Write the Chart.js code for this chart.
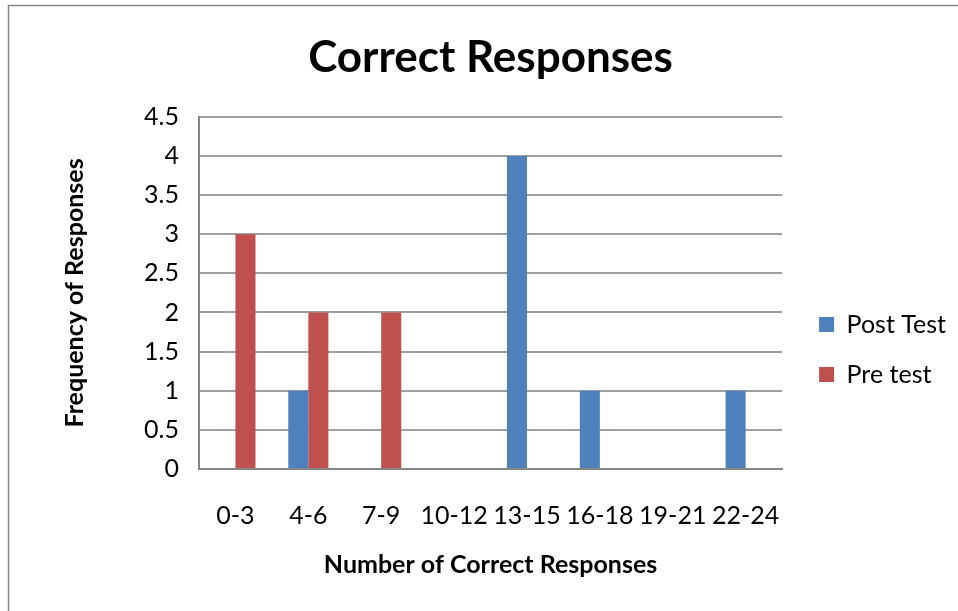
<!DOCTYPE html>
<html>
<head>
<meta charset="utf-8">
<script src="https://cdn.jsdelivr.net/npm/chart.js@4"></script>
<style>
    html, body { margin: 0; padding: 0; background: #fff; }
    #wrap { position: relative; width: 958px; height: 611px; }
</style>
</head>
<body>
<div id="wrap"><canvas id="chart01" width="958" height="611"></canvas></div>
<script>
const FONT = 'Lato, "Open Sans", sans-serif';

// faixas de acertos
const categories = ['0-3', '4-6', '7-9', '10-12', '13-15', '16-18', '19-21', '22-24'];
const postTest = [0, 1, 0, 0, 4, 1, 0, 1];
const preTest = [3, 2, 2, 0, 0, 0, 0, 0];
const yTicks = [0, 0.5, 1, 1.5, 2, 2.5, 3, 3.5, 4, 4.5];

// moldura cinza em volta do gráfico
const frame = {
    id: 'frame',
    beforeDraw(chart) {
        const c = chart.ctx;
        c.save();
        c.fillStyle = '#fff';
        c.fillRect(0, 0, chart.width, chart.height);
        c.strokeStyle = '#868686';
        c.lineWidth = 1.5;
        c.strokeRect(8.5, 5.5, chart.width + 10, chart.height + 10);
        c.restore();
    },
    afterLayout(chart) {
        // legenda um pouco abaixo do centro e mais para a direita
        chart.legend.top += 44;
        chart.legend.bottom += 44;
        chart.legend.left += 12;
        chart.legend.right += 12;
        // titulo centrado sobre a area do grafico
        chart.titleBlock.left = chart.chartArea.left;
        chart.titleBlock.right = chart.chartArea.right;
    }
};

const ctx01 = document.getElementById('chart01');
const chart = new Chart(ctx01, {
    type: 'bar',
    data: {
        labels: categories,
        datasets: [{
            label: 'Post Test',
            data: postTest,
            backgroundColor: '#4F81BD',
            categoryPercentage: 0.55,
            barPercentage: 1
        }, {
            label: 'Pre test',
            data: preTest,
            backgroundColor: '#C0504D',
            categoryPercentage: 0.55,
            barPercentage: 1
        }]
    },
    options: {
        responsive: false,
        animation: false,
        layout: { padding: { top: 0, right: 14, bottom: 0, left: 0 } },
        plugins: {
            title: {
                display: true,
                text: 'Correct Responses',
                color: '#000',
                font: { family: FONT, size: 44, weight: 'bold' },
                padding: { top: 31, bottom: 33 }
            },
            legend: {
                position: 'right',
                labels: {
                    color: '#000',
                    font: { family: FONT, size: 25 },
                    boxWidth: 15,
                    boxHeight: 15,
                    padding: 25
                }
            },
            tooltip: { enabled: false }
        },
        scales: {
            x: {
                grid: { display: false, drawTicks: false },
                border: { color: '#868686', width: 2 },
                ticks: {
                    color: '#000',
                    font: { family: FONT, size: 25 },
                    padding: 32,
                    maxRotation: 0,
                    autoSkip: false
                },
                title: {
                    display: true,
                    text: 'Number of Correct Responses',
                    color: '#000',
                    font: { family: FONT, size: 25, weight: 'bold' },
                    padding: { top: 0, bottom: 31 }
                },
                afterFit(scale) { scale.height = 142; }
            },
            y: {
                min: 0,
                max: 4.5,
                afterBuildTicks(scale) { scale.ticks = yTicks.map(v => ({ value: v })); },
                grid: { color: '#A0A0A0', lineWidth: 2, drawTicks: false },
                border: { color: '#868686', width: 2 },
                ticks: {
                    color: '#000',
                    font: { family: FONT, size: 25 },
                    padding: 20,
                    callback: (v) => String(v)
                },
                title: {
                    display: true,
                    text: 'Frequency of Responses',
                    color: '#000',
                    font: { family: FONT, size: 25, weight: 'bold' },
                    padding: { top: 60, bottom: 0 }
                },
                afterFit(scale) { scale.width = 199; }
            }
        }
    },
    plugins: [frame]
});
</script>
</body>
</html>
